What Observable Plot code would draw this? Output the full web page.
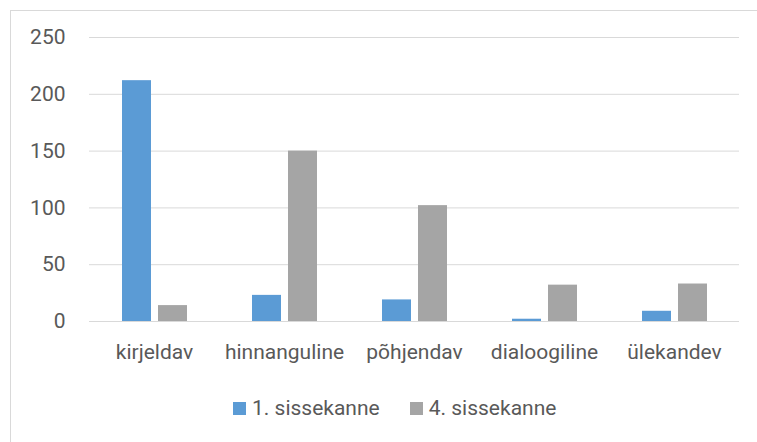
<!DOCTYPE html>
<html><head><meta charset="utf-8">
<script src="https://cdn.jsdelivr.net/npm/d3@7"></script>
<script src="https://cdn.jsdelivr.net/npm/@observablehq/plot@0.6"></script>
<style>
body{margin:0;background:#fff;font-family:Roboto,sans-serif;}
#wrap{position:relative;width:757px;height:442px;overflow:hidden;background:#fff;}
#frame{position:absolute;left:10px;top:10px;width:800px;height:500px;border:1px solid #d9d9d9;box-sizing:border-box;}
#chart{position:absolute;left:0;top:0;}
#legend{position:absolute;top:396px;left:233px;display:flex;align-items:center;font-size:21px;color:#595959;font-family:Roboto,sans-serif;white-space:nowrap;}
.sw{display:inline-block;width:13px;height:13px;margin-right:6px;}
.item{display:flex;align-items:center;margin-right:30px;}
</style></head>
<body>
<div id="wrap"><div id="frame"></div><div id="chart"></div><div id="legend"></div></div>
<script>
const categories = ["kirjeldav","hinnanguline","põhjendav","dialoogiline","ülekandev"];
const series = ["1. sissekanne","4. sissekanne"];
const values1 = [212,23,19,2,9];
const values4 = [14,150,102,32,33];
const colors = ["#5b9bd5","#a5a5a5"];
const yTicks = [0,50,100,150,200,250];

const data = [];
categories.forEach((c,i)=>{
  data.push({cat:c, series:series[0], value:values1[i]});
  data.push({cat:c, series:series[1], value:values4[i]});
});

const chart = Plot.plot({
  width:757, height:390,
  marginLeft:87, marginRight:17, marginTop:37, marginBottom:69,
  style:{fontSize:"21px", fontFamily:"Roboto, sans-serif", color:"#595959", background:"transparent"},
  fx:{domain:categories, padding:0, label:null, tickSize:0, tickPadding:23, axis:"bottom"},
  x:{domain:series, axis:null, paddingInner:0.2, paddingOuter:0.89},
  y:{domain:[0,250], ticks:5, tickSize:0, tickPadding:24, label:null},
  color:{domain:series, range:colors},
  marks:[
    Plot.ruleY(yTicks,{stroke:"#d9d9d9", strokeWidth:1}),
    Plot.barY(data,{fx:"cat", x:"series", y:"value", fill:"series"})
  ]
});
document.getElementById("chart").appendChild(chart);

const leg = document.getElementById("legend");
series.forEach((s,i)=>{
  const it = document.createElement("div"); it.className="item";
  const sw = document.createElement("span"); sw.className="sw"; sw.style.background=colors[i];
  const tx = document.createElement("span"); tx.textContent=s;
  it.appendChild(sw); it.appendChild(tx); leg.appendChild(it);
});
</script>
</body></html>
